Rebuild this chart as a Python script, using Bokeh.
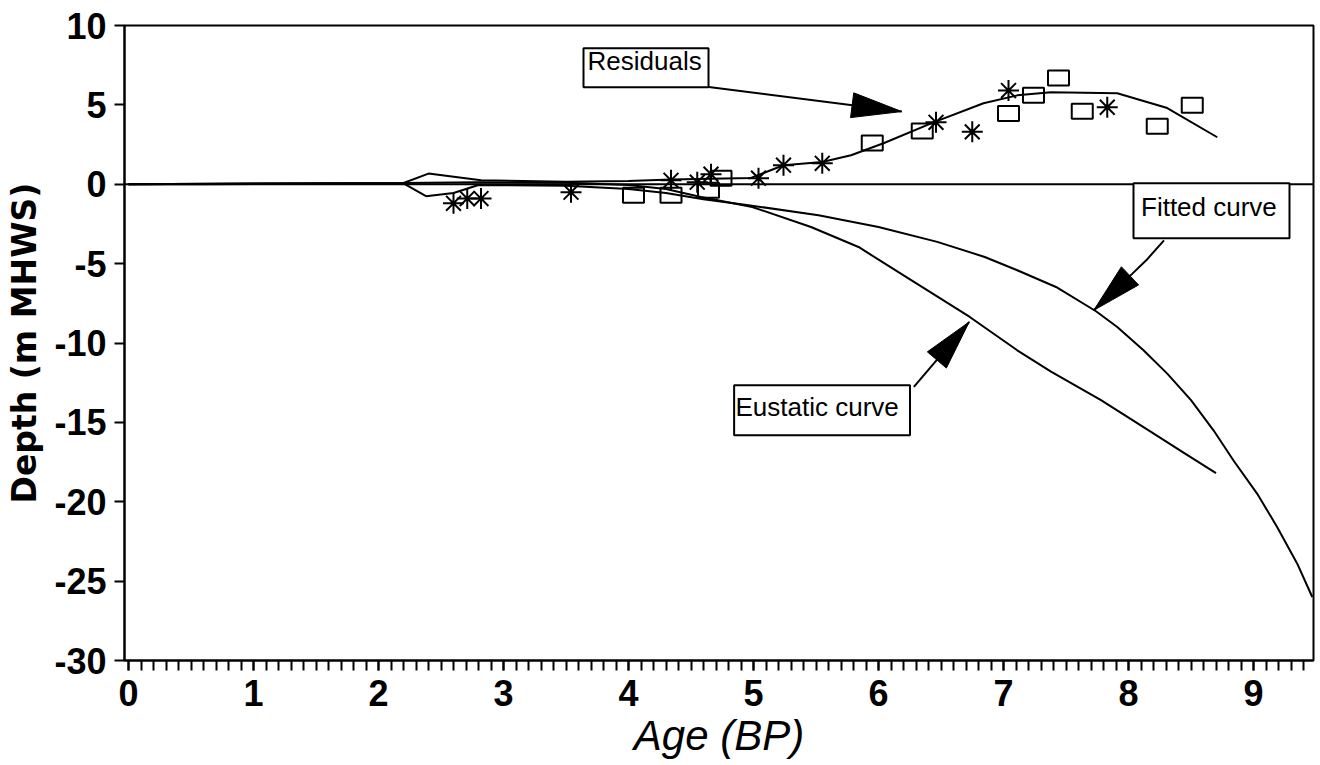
import math
from bokeh.plotting import figure
from bokeh.models import Range1d, FixedTicker, Span
from bokeh.embed import file_html
from bokeh.resources import INLINE
from bokeh.core.properties import value

# ---------------- data ----------------
fitted_age = [0.0, 1.0, 2.2, 2.38, 2.6, 2.8, 3.5, 4.0, 4.3, 4.6, 4.96, 5.52, 6.0,
              6.47, 6.85, 7.11, 7.42, 7.74, 7.91, 8.12, 8.31, 8.5, 8.68, 8.84,
              9.03, 9.19, 9.35, 9.47]
fitted_depth = [0.0, 0.05, 0.05, -0.75, -0.55, -0.05, -0.1, -0.3, -0.55, -0.95, -1.32,
                -1.95, -2.69, -3.63, -4.58, -5.42, -6.47, -8.0, -8.99, -10.46, -11.93,
                -13.6, -15.5, -17.4, -19.5, -21.6, -23.9, -26.0]

eustatic_age = [0.0, 1.0, 2.2, 2.8, 3.5, 4.0, 4.3, 4.58, 4.99, 5.46, 5.84, 6.22,
                6.73, 7.11, 7.38, 7.78, 8.18, 8.44, 8.7]
eustatic_depth = [0.0, 0.05, 0.08, 0.12, 0.1, -0.05, -0.3, -0.8, -1.43, -2.69, -3.95,
                  -5.84, -8.36, -10.46, -11.8, -13.6, -15.6, -16.9, -18.2]

resid_age = [0.0, 0.6, 2.2, 2.4, 2.82, 3.5, 4.0, 4.34, 4.66, 4.98, 5.24, 5.55, 5.78,
             6.04, 6.44, 6.84, 7.11, 7.38, 7.91, 8.31, 8.71]
resid_depth = [0.0, 0.0, 0.08, 0.67, 0.25, 0.15, 0.2, 0.3, 0.35, 0.4, 1.2, 1.4, 1.83,
               2.58, 3.9, 5.1, 5.6, 5.8, 5.73, 4.8, 2.96]

star_age = [2.6, 2.71, 2.82, 3.54, 4.34, 4.55, 4.66, 5.04, 5.24, 5.55, 6.46, 6.75, 7.04, 7.83]
star_depth = [-1.2, -0.9, -0.9, -0.5, 0.25, 0.13, 0.63, 0.38, 1.2, 1.32, 3.9, 3.3, 5.9, 4.85]

square_age = [4.04, 4.34, 4.64, 4.74, 5.95, 6.35, 7.04, 7.24, 7.44, 7.63, 8.23, 8.51]
square_depth = [-0.7, -0.7, -0.38, 0.38, 2.6, 3.35, 4.45, 5.6, 6.7, 4.6, 3.65, 4.97]

x_ticks = [0, 1, 2, 3, 4, 5, 6, 7, 8, 9]
y_ticks = [-30, -25, -20, -15, -10, -5, 0, 5, 10]
y_tick_labels = ["-30", "-25", "-20", "-15", "-10", "-5", "0", "5", "10"]

# annotation labels
box_text = ["Residuals", "Fitted curve", "Eustatic curve"]
box_left = [3.64, 8.04, 4.845]
box_right = [4.64, 9.288, 6.252]
box_top = [8.57, 0.06, -12.66]
box_bottom = [6.11, -3.40, -15.81]
text_x = [3.672, 8.10, 4.856]
text_y = [7.75, -1.45, -14.05]

arrow_paths = [
    ([4.642, 6.186], [6.13, 4.58]),
    ([8.284, 8.142, 8.031, 7.722], [-3.53, -4.79, -5.63, -7.94]),
    ([6.283, 6.726], [-12.77, -8.67]),
]

# ---------------- layout ----------------
X0, X1 = -0.032, 9.48
Y0, Y1 = -30.0, 10.0
FW, FH = 1189, 635
SX = FW / (X1 - X0)
SY = FH / (Y1 - Y0)

p = figure(frame_width=FW, frame_height=FH,
           x_range=Range1d(X0, X1), y_range=Range1d(Y0, Y1),
           output_backend="svg", toolbar_location=None,
           min_border_left=124, min_border_right=4, min_border_top=25,
           min_border_bottom=98,
           background_fill_color="white", border_fill_color="white")

p.xgrid.visible = False
p.ygrid.visible = False
p.outline_line_color = "black"
p.outline_line_width = 2
p.outline_line_alpha = 1.0

minor = [round(i * 0.1, 1) for i in range(0, 95)]
p.xaxis.ticker = FixedTicker(ticks=x_ticks, minor_ticks=minor)
p.yaxis.ticker = FixedTicker(ticks=y_ticks, minor_ticks=[])
p.yaxis.major_label_overrides = {t: s for t, s in zip(y_ticks, y_tick_labels)}

for ax in (p.xaxis[0], p.yaxis[0]):
    ax.axis_line_color = "black"
    ax.axis_line_width = 2
    ax.major_tick_line_color = "black"
    ax.major_tick_line_width = 2
    ax.major_tick_in = 0
    ax.major_tick_out = 10
    ax.major_label_text_font = "Liberation Sans"
    ax.major_label_text_font_size = "36px"
    ax.major_label_text_font_style = "bold"
    ax.major_label_text_color = "black"
    ax.axis_label_text_color = "black"

p.xaxis.minor_tick_line_color = "black"
p.xaxis.minor_tick_line_width = 2
p.xaxis.minor_tick_in = 0
p.xaxis.minor_tick_out = 10
p.yaxis.minor_tick_line_color = None
p.xaxis.major_label_standoff = 9
p.yaxis.major_label_standoff = 8

p.xaxis.axis_label = "Age (BP)"
p.xaxis.axis_label_text_font = "Liberation Sans"
p.xaxis.axis_label_text_font_style = "italic"
p.xaxis.axis_label_text_font_size = "42px"
p.xaxis.axis_label_standoff = 3

p.yaxis.axis_label = "Depth (m MHWS)"
p.yaxis.axis_label_text_font = "DejaVu Sans"
p.yaxis.axis_label_text_font_style = "bold"
p.yaxis.axis_label_text_font_size = "33px"
p.yaxis.axis_label_standoff = 7

p.add_layout(Span(location=0, dimension="width", line_color="black",
                  line_width=2, level="underlay"))

# curves
p.line(fitted_age, fitted_depth, line_color="black", line_width=2)
p.line(eustatic_age, eustatic_depth, line_color="black", line_width=2)
p.line(resid_age, resid_depth, line_color="black", line_width=2)

# points
p.scatter(star_age, star_depth, marker="asterisk", size=21, line_color="black", line_width=2)
p.rect(square_age, square_depth, width=21, height=15, width_units="screen",
       height_units="screen", fill_color=None, line_color="black", line_width=2)

# annotation boxes
p.quad(left=box_left, right=box_right, top=box_top, bottom=box_bottom,
       fill_color="white", line_color="black", line_width=2)
p.text(text_x, text_y, text=box_text, text_font=value("Liberation Sans"),
       text_font_size="26px", text_baseline="middle", text_align="left",
       text_color="black")


def to_px(x, y):
    return (x - X0) * SX, (y - Y0) * SY


def to_data(px, py):
    return px / SX + X0, py / SY + Y0


def head(prev_pt, tip, length=50.0, half_w=12.5):
    bx, by = to_px(*prev_pt)
    tx, ty = to_px(*tip)
    dx, dy = tx - bx, ty - by
    L = math.hypot(dx, dy)
    ux, uy = dx / L, dy / L
    cx, cy = tx - ux * length, ty - uy * length
    nx, ny = -uy, ux
    pts = [(tx, ty), (cx + nx * half_w, cy + ny * half_w), (cx - nx * half_w, cy - ny * half_w)]
    d = [to_data(*q) for q in pts]
    return [q[0] for q in d], [q[1] for q in d]


for xs, ys in arrow_paths:
    p.line(xs, ys, line_color="black", line_width=2)
    hx, hy = head((xs[-2], ys[-2]), (xs[-1], ys[-1]))
    p.patch(hx, hy, fill_color="black", line_color="black", line_width=1)

open("out.html", "w").write(file_html(p, INLINE))
